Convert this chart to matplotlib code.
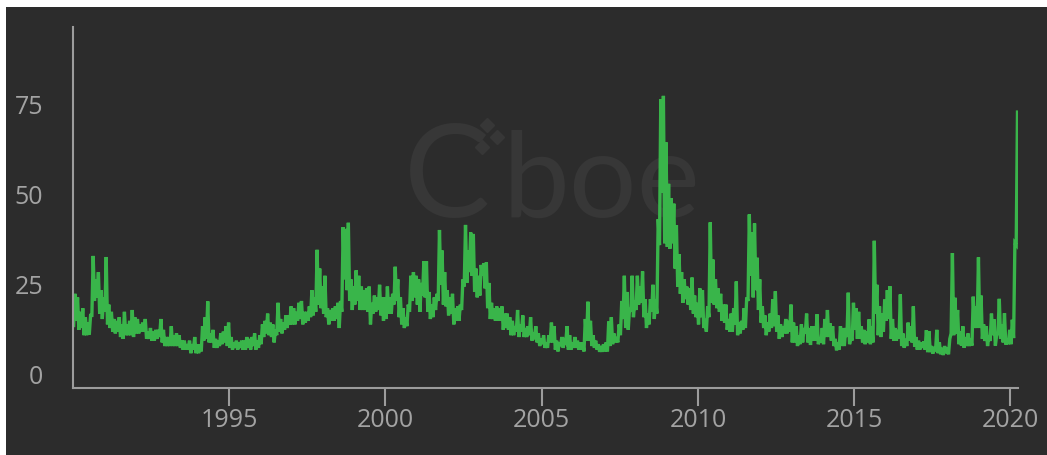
import numpy as np
import matplotlib
matplotlib.use("Agg")
import matplotlib.pyplot as plt
from matplotlib.patches import Rectangle
from matplotlib.transforms import ScaledTranslation

# ---------------- data (VIX, monthly high / low of daily closes) ----------------
start_year = 1990
vix_high = [
    26.0, 25.0, 21.0, 22.0, 19.5, 18.0, 20.0, 36.5, 30.0, 32.0, 27.0, 25.0,   # 1990
    36.2, 23.0, 21.0, 19.0, 18.5, 19.5, 17.5, 21.0, 17.5, 18.5, 21.5, 19.5,   # 1991
    19.0, 17.5, 18.0, 19.0, 15.5, 16.5, 15.5, 16.0, 16.0, 19.0, 16.0, 14.0,   # 1992
    14.0, 17.0, 14.5, 15.0, 14.5, 13.0, 13.0, 12.0, 13.0, 12.0, 14.0, 12.0,   # 1993
    12.0, 17.0, 19.5, 23.9, 15.0, 16.0, 13.5, 13.0, 15.0, 15.5, 17.0, 18.0,   # 1994
    14.0, 12.5, 13.0, 12.5, 13.0, 13.0, 14.0, 13.5, 14.0, 15.0, 13.0, 14.5,   # 1995
    17.5, 18.5, 20.5, 18.0, 17.5, 16.0, 23.5, 19.0, 18.0, 20.0, 20.0, 22.5,   # 1996
    22.0, 21.0, 23.5, 24.0, 21.0, 21.0, 22.5, 27.0, 25.0, 38.2, 33.0, 28.0,   # 1997
    31.0, 22.0, 21.5, 22.0, 22.5, 23.5, 24.0, 44.5, 44.0, 45.7, 30.0, 28.0,   # 1998
    32.5, 31.0, 28.0, 27.0, 27.5, 28.0, 23.5, 25.5, 25.0, 28.5, 25.0, 25.0,   # 1999
    28.0, 25.0, 26.0, 33.5, 30.0, 25.0, 22.0, 19.5, 23.0, 31.0, 32.0, 31.0,   # 2000
    30.0, 29.0, 35.0, 35.0, 26.5, 23.0, 25.0, 26.0, 43.7, 38.0, 32.0, 27.0,   # 2001
    25.0, 26.0, 22.0, 22.5, 23.0, 30.0, 45.1, 38.0, 43.0, 42.6, 33.0, 31.0,   # 2002
    34.0, 34.5, 34.7, 29.0, 23.5, 22.0, 22.5, 22.0, 22.5, 20.5, 20.5, 19.5,   # 2003
    18.5, 17.0, 21.5, 17.5, 20.0, 16.5, 17.0, 19.5, 14.5, 17.0, 15.0, 13.5,   # 2004
    14.5, 12.5, 14.5, 18.0, 17.0, 13.0, 12.5, 14.0, 13.0, 17.0, 14.5, 12.5,   # 2005
    14.0, 13.0, 12.5, 12.5, 19.0, 23.8, 18.5, 14.5, 13.0, 12.0, 11.5, 12.0,   # 2006
    12.5, 18.3, 19.5, 15.0, 14.0, 17.5, 24.0, 31.0, 26.5, 22.0, 31.0, 24.0,   # 2007
    31.0, 28.0, 32.2, 24.5, 20.5, 24.5, 28.5, 24.5, 46.7, 80.0, 80.9, 68.0,   # 2008
    56.5, 52.5, 51.0, 45.0, 37.0, 32.0, 30.0, 28.0, 27.5, 30.5, 25.5, 23.5,   # 2009
    27.5, 27.0, 19.0, 22.5, 45.8, 35.5, 30.0, 27.5, 26.0, 23.0, 23.0, 19.0,   # 2010
    20.5, 22.0, 29.4, 18.0, 18.5, 22.0, 25.0, 48.0, 43.0, 45.5, 36.0, 30.0,   # 2011
    22.5, 20.0, 18.0, 20.5, 24.5, 26.7, 20.0, 17.5, 17.0, 19.0, 18.5, 23.0,   # 2012
    18.0, 17.0, 14.5, 17.5, 16.5, 20.5, 16.5, 17.0, 17.0, 20.3, 13.5, 16.5,   # 2013
    19.0, 21.5, 17.8, 17.0, 13.5, 12.5, 17.0, 16.5, 16.5, 26.3, 14.0, 23.5,   # 2014
    22.0, 21.0, 17.0, 16.0, 15.5, 18.9, 17.0, 40.7, 28.5, 22.5, 20.5, 24.4,   # 2015
    27.0, 28.1, 19.0, 16.5, 16.0, 25.8, 15.0, 13.5, 18.0, 17.0, 22.5, 14.0,   # 2016
    13.0, 12.5, 12.8, 15.9, 15.6, 11.5, 11.2, 16.0, 12.5, 11.0, 11.5, 11.0,   # 2017
    13.5, 37.3, 24.9, 21.5, 15.5, 17.0, 14.0, 15.0, 13.5, 25.2, 22.5, 36.1,   # 2018
    25.5, 17.5, 17.0, 14.5, 20.5, 18.9, 14.5, 24.6, 17.5, 20.6, 13.5, 16.0,   # 2019
    18.8, 40.1, 76.4,                                                          # 2020
]
vix_low = [
    17.2, 18.5, 16.0, 16.5, 14.5, 14.5, 14.7, 20.0, 24.0, 25.0, 20.5, 19.0,   # 1990
    21.0, 17.5, 16.5, 15.5, 15.0, 15.5, 14.0, 13.5, 14.5, 14.5, 14.5, 14.0,   # 1991
    15.0, 15.0, 15.5, 15.5, 13.5, 13.5, 13.0, 13.0, 13.5, 14.0, 12.5, 11.5,   # 1992
    11.5, 11.5, 11.5, 11.5, 11.5, 11.0, 10.5, 10.5, 10.5, 9.5, 10.5, 9.5,     # 1993
    9.5, 10.0, 13.0, 13.5, 12.5, 12.5, 11.0, 11.0, 11.5, 12.0, 12.5, 11.5,    # 1994
    11.0, 10.5, 11.0, 10.5, 11.0, 10.5, 10.5, 11.0, 10.5, 11.5, 10.5, 11.0,   # 1995
    12.0, 14.0, 15.0, 14.5, 14.0, 12.5, 14.5, 15.5, 15.0, 16.0, 16.5, 17.5,   # 1996
    17.5, 17.5, 18.5, 19.0, 17.5, 18.0, 18.5, 19.5, 20.0, 21.0, 23.0, 22.0,   # 1997
    20.5, 19.5, 17.5, 18.5, 18.5, 19.0, 16.5, 21.0, 30.0, 27.0, 24.0, 21.5,   # 1998
    23.0, 24.0, 21.5, 21.5, 21.5, 21.0, 17.5, 20.5, 21.0, 21.5, 20.0, 18.5,   # 1999
    19.0, 20.5, 20.5, 23.0, 24.0, 19.5, 17.5, 16.5, 17.0, 21.0, 24.0, 25.0,   # 2000
    23.0, 21.0, 25.5, 25.0, 21.0, 19.0, 19.5, 21.5, 24.0, 28.5, 23.0, 22.5,   # 2001
    20.0, 20.5, 17.5, 18.5, 18.5, 21.5, 28.0, 29.0, 32.0, 31.0, 26.5, 25.0,   # 2002
    25.5, 31.0, 27.5, 22.0, 19.0, 19.0, 18.5, 18.5, 18.5, 16.0, 16.5, 16.0,   # 2003
    14.5, 14.5, 15.5, 14.0, 15.5, 14.0, 14.0, 14.5, 13.0, 14.0, 12.5, 11.5,   # 2004
    12.0, 11.0, 11.0, 12.5, 12.5, 10.5, 10.0, 11.5, 11.0, 12.5, 10.5, 10.5,   # 2005
    11.0, 11.0, 10.5, 10.5, 10.0, 13.0, 13.0, 11.5, 11.0, 10.5, 9.9, 9.9,     # 2006
    10.0, 10.0, 11.5, 12.0, 12.5, 12.5, 14.5, 19.0, 16.5, 16.0, 21.0, 19.5,   # 2007
    21.5, 23.0, 23.5, 19.5, 16.5, 17.5, 21.0, 19.0, 20.5, 39.5, 54.0, 40.0,   # 2008
    39.0, 38.5, 40.0, 33.0, 28.0, 26.0, 23.5, 24.5, 23.0, 21.5, 20.5, 19.5,   # 2009
    17.5, 19.5, 16.5, 15.5, 19.5, 23.5, 23.0, 22.0, 21.0, 18.5, 18.0, 16.0,   # 2010
    15.5, 15.5, 17.5, 14.5, 15.0, 16.0, 16.5, 24.0, 31.0, 25.0, 27.0, 21.5,   # 2011
    18.0, 16.5, 14.5, 15.5, 16.5, 17.0, 15.5, 13.5, 14.0, 15.0, 15.0, 15.5,   # 2012
    12.5, 12.5, 11.5, 12.0, 12.5, 15.0, 12.5, 11.8, 13.0, 13.0, 12.0, 12.5,   # 2013
    12.0, 14.0, 14.0, 13.0, 11.5, 10.3, 10.5, 11.5, 11.5, 14.0, 12.0, 13.0,   # 2014
    16.0, 13.5, 13.5, 12.5, 12.0, 12.5, 12.0, 12.5, 20.5, 14.5, 14.0, 15.5,   # 2015
    18.5, 19.0, 13.5, 13.0, 13.0, 13.5, 11.5, 11.0, 11.5, 13.0, 12.5, 11.3,   # 2016
    10.5, 10.5, 11.0, 10.5, 9.8, 9.8, 9.4, 10.0, 9.5, 9.2, 9.0, 9.5,          # 2017
    9.2, 15.0, 14.5, 15.0, 12.0, 11.6, 11.0, 11.5, 11.5, 11.6, 16.5, 16.5,    # 2018
    16.5, 13.5, 12.9, 11.5, 12.9, 14.5, 11.6, 15.0, 13.5, 12.5, 11.9, 12.0,   # 2019
    12.0, 13.7, 39.6,                                                          # 2020
]
x_ticks = [1995, 2000, 2005, 2010, 2015, 2020]
y_ticks = [0, 25, 50, 75]

# ---------------- style ----------------
W, H = 1047, 455
BG = "#2c2c2c"
GREEN = "#39b54a"
AXIS = "#9c9c9c"
TXT = "#a3a3a3"
WM = "#373737"
FONT = ["Open Sans", "DejaVu Sans"]
WMFONT = ["Lato", "DejaVu Sans"]

fig = plt.figure(figsize=(W / 100, H / 100), dpi=100)
fig.patch.set_facecolor("white")
fig.add_artist(Rectangle((6 / W, 0), 1, (H - 7) / H, transform=fig.transFigure,
                         facecolor=BG, edgecolor="none", zorder=0))

# watermark (Cboe logo)
base = (H - 217) / H
fig.text(404 / W, base, "C", ha="left", fontsize=93, family=WMFONT, color=WM,
         va="baseline", zorder=1)
fig.text(503 / W, base, "boe", ha="left", fontsize=86, family=WMFONT, color=WM,
         va="baseline", zorder=1)
for (dx, dy) in [(487, 125), (497, 137), (482, 147)]:
    fig.add_artist(plt.Line2D([dx / W], [(H - dy) / H], marker="D", markersize=7,
                              color=WM, linestyle="none", transform=fig.transFigure, zorder=1))

ax = fig.add_axes([73 / W, 67.5 / H, 944.5 / W, 360.5 / H])
ax.set_facecolor("none")
ax.set_zorder(2)

n = len(vix_high)
m = np.arange(n)
t = np.empty(2 * n)
v = np.empty(2 * n)
t[0::2] = start_year + (m + 0.25) / 12
t[1::2] = start_year + (m + 0.75) / 12
v[0::2] = vix_low
v[1::2] = vix_high

ax.plot(t, v, color=GREEN, linewidth=2.4, solid_joinstyle="miter")

ax.set_xlim(start_year, t[-1])
ax.set_ylim(0, 100)

for s in ["top", "right"]:
    ax.spines[s].set_visible(False)
for s in ["left", "bottom"]:
    ax.spines[s].set_color(AXIS)
    ax.spines[s].set_linewidth(1.5)

ax.set_xticks(x_ticks)
ax.set_xticklabels([str(x) for x in x_ticks])
ax.set_yticks(y_ticks)
ax.set_yticklabels([str(y) for y in y_ticks])
ax.tick_params(axis="x", length=13, width=1.5, color=AXIS, pad=1.5,
               labelsize=18, labelcolor=TXT, direction="out")
ax.tick_params(axis="y", length=0, pad=21.6, labelsize=18, labelcolor=TXT)
for lab in ax.get_xticklabels() + ax.get_yticklabels():
    lab.set_fontfamily(FONT)
off = ScaledTranslation(0, 12.5 / 100, fig.dpi_scale_trans)
for lab in ax.get_yticklabels():
    lab.set_transform(lab.get_transform() + off)

fig.savefig("out.png", dpi=100, facecolor=fig.get_facecolor())
